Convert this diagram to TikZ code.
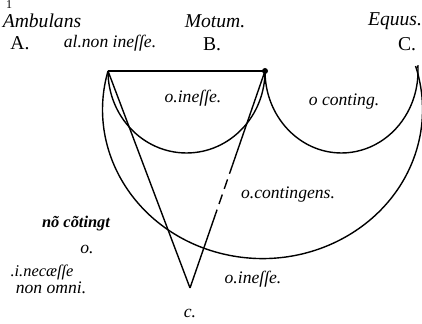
\documentclass[tikz,border=0pt]{standalone}
\usepackage{fontspec}
\setmainfont{Liberation Serif}
\usetikzlibrary{calc}

\begin{document}
\begin{tikzpicture}[
  x=0.5pt, y=0.5pt,
  font=\fontsize{8.8}{10}\selectfont,
  filo/.style={draw=black, line width=0.7pt},
  scritta/.style={inner sep=1pt, font=\fontsize{8.8}{10}\selectfont\itshape},
  titolo/.style={inner sep=1pt, font=\fontsize{9.8}{11}\selectfont\itshape},
  lettera/.style={inner sep=1pt, font=\fontsize{9.8}{11}\selectfont}
]
\useasboundingbox (0,0) rectangle (422,324);

% Punti
\coordinate (A) at (108,253);
\coordinate (B) at (265,253);
\coordinate (c) at (190,36);

% Linee
\draw[filo] (A) -- (B);
\draw[filo] (A) -- (c);
\draw[filo] (B) -- ($(B)!0.43!(c)$);
\draw[filo, dash pattern=on 5pt off 3pt] ($(B)!0.43!(c)$) -- ($(B)!0.66!(c)$);
\draw[filo] ($(B)!0.66!(c)$) -- (c);
\fill (B) circle[radius=1.5pt];

% Archi
\draw[filo] (A) arc[start angle=180, end angle=360, x radius=78.5, y radius=82];
\draw[filo] (B) arc[start angle=180, end angle=364, x radius=76.5, y radius=82] coordinate (C);
\draw[filo] (A) arc[start angle=165, end angle=377, x radius=160, y radius=149];

% Scritte
\node[lettera, inner sep=0pt, font=\fontsize{6}{7}\selectfont] (uno) at (9,319) {1};
\node[titolo] (ambulans) at (42,303) {Ambulans};
\node[lettera] (lA) at (20,281) {A.};
\node[scritta] (nonin) at (110,281) {al.non ineſſe.};
\node[titolo] (motum) at (215,303) {Motum.};
\node[lettera] (lB) at (212,280) {B.};
\node[titolo] (equus) at (395,303) {Equus.};
\node[lettera] (lC) at (407,280) {C.};
\node[scritta] (inesse1) at (193,226) {o.ineſſe.};
\node[scritta] (conting) at (344,222) {o conting.};
\node[scritta] (contingens) at (288,129) {o.contingens.};
\node[scritta] (inesse2) at (253,45) {o.ineſſe.};
\node[scritta] (lc) at (190,11) {c.};
\node[scritta, font=\fontsize{8.2}{10}\selectfont\bfseries\itshape] (noncont) at (76,100) {nõ cõtingt};
\node[scritta] (o) at (87,75) {o.};
\node[scritta, font=\fontsize{8.2}{10}\selectfont\itshape] (necesse) at (42,52) {.i.necæſſe};
\node[scritta] (nonomni) at (51,36) {non omni.};

\end{tikzpicture}
\end{document}
